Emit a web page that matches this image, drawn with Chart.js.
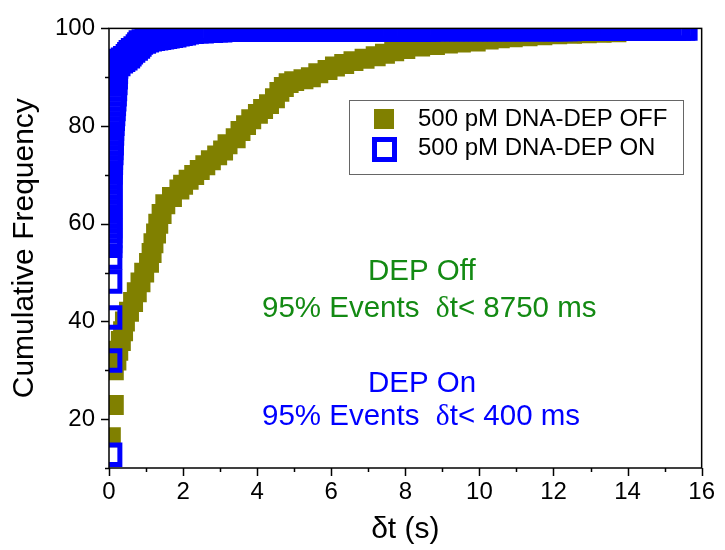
<!DOCTYPE html>
<html lang="en">
<head>
    <meta charset="UTF-8">
    <title>Cumulative Frequency</title>
    <style>
        body { margin: 0; background: #fff; }
        canvas { display: block; }
    </style>
</head>
<body>

    <canvas id="myChart" width="725" height="550"></canvas>

    <script src="https://cdn.jsdelivr.net/npm/chart.js"></script>

    <script>

        // DEP OFF: event time (s) and cumulative frequency (%)
        const offTimes = [0.05, 0.13, 0.13, 0.20, 0.25, 0.32, 0.38, 0.43, 0.54, 0.65,
                          0.75, 0.85, 0.95, 1.08, 1.15, 1.20, 1.27, 1.33, 1.42, 1.52,
                          1.70, 1.90, 2.00, 2.15, 2.30, 2.45, 2.60, 2.75, 2.92, 3.08,
                          3.20, 3.42, 3.55, 3.70, 3.84, 4.02, 4.16, 4.32, 4.48, 4.60,
                          4.72, 4.85, 5.00, 5.25, 5.45, 5.65, 5.90, 6.10, 6.35, 6.60,
                          6.90, 7.20, 7.45, 7.70, 8.00, 8.40, 8.80, 9.15, 9.50, 9.90,
                          10.25, 10.55, 10.90, 11.30, 11.70, 12.10, 12.50, 12.90, 13.30, 13.70];
        const offFreq  = [16.3, 22.9, 30.0, 32.0, 34.0, 36.0, 38.0, 40.0, 42.0, 44.0,
                          46.0, 48.0, 50.0, 52.0, 54.0, 56.0, 58.0, 60.0, 62.0, 64.0,
                          65.5, 67.0, 68.0, 69.0, 70.0, 71.0, 72.0, 73.0, 74.0, 75.0,
                          76.3, 77.5, 79.0, 80.2, 81.4, 82.5, 83.5, 84.5, 85.7, 87.0,
                          88.0, 88.8, 89.2, 89.6, 90.0, 90.8, 91.5, 92.2, 92.7, 93.3,
                          93.8, 94.3, 94.8, 95.3, 95.8, 96.3, 96.6, 96.9, 97.1, 97.3,
                          97.7, 98.0, 98.2, 98.4, 98.6, 98.8, 98.9, 99.0, 99.1, 99.2];

        // DEP ON: event time (s) and cumulative frequency (%)
        const onTimes = [0.03, 0.03, 0.03, 0.03, 0.03, 0.03, 0.03, 0.03, 0.03, 0.03,
                         0.03, 0.03, 0.03, 0.03, 0.03, 0.03, 0.03, 0.03, 0.03, 0.03,
                         0.04, 0.04, 0.05, 0.05, 0.06, 0.06, 0.07, 0.07, 0.08, 0.08,
                         0.09, 0.10, 0.11, 0.12, 0.13, 0.14, 0.15, 0.16, 0.17, 0.18,
                         0.185, 0.19, 0.25, 0.32, 0.38, 0.44, 0.51, 0.55, 0.59, 0.65,
                         0.72, 0.78, 0.82, 0.86, 0.94, 1.02, 1.10, 1.18, 1.27, 1.35,
                         1.43, 1.51, 1.58, 1.67, 1.76, 1.85, 1.93, 2.02, 2.10, 2.23,
                         2.36, 2.50, 2.62, 2.75, 2.88, 3.00, 3.13, 3.27, 3.40, 3.52,
                         3.65, 3.78, 3.90, 4.03, 4.16, 4.28, 4.41, 4.54, 4.67, 4.79,
                         4.92, 5.05, 5.18, 5.30, 5.43, 5.56, 5.69, 5.81, 5.94, 6.07,
                         6.20, 6.32, 6.45, 6.58, 6.71, 6.83, 6.96, 7.09, 7.22, 7.34,
                         7.47, 7.60, 7.73, 7.85, 7.98, 8.11, 8.24, 8.36, 8.49, 8.62,
                         8.75, 8.87, 9.00, 9.13, 9.26, 9.38, 9.51, 9.64, 9.77, 9.89,
                         10.02, 10.15, 10.28, 10.40, 10.53, 10.66, 10.79, 10.91, 11.04, 11.17,
                         11.30, 11.42, 11.55, 11.68, 11.81, 11.93, 12.06, 12.19, 12.32, 12.44,
                         12.57, 12.70, 12.83, 12.95, 13.08, 13.21, 13.34, 13.46, 13.59, 13.72,
                         13.85, 13.97, 14.10, 14.23, 14.36, 14.48, 14.61, 14.74, 14.87, 14.99,
                         15.12, 15.25, 15.38, 15.50, 15.56];
        const onFreq  = [12.7, 32.0, 40.8, 48.2, 53.1, 55.5, 56.5, 57.5, 58.5, 59.5,
                         60.5, 61.5, 62.5, 63.5, 64.5, 65.5, 66.5, 67.5, 68.5, 69.5,
                         70.5, 71.5, 72.5, 73.5, 74.5, 75.5, 76.5, 77.5, 78.5, 79.5,
                         80.5, 81.5, 82.5, 83.5, 84.5, 85.5, 86.5, 87.6, 88.8, 90.0,
                         91.1, 92.2, 92.7, 93.3, 93.6, 93.9, 94.3, 94.7, 95.1, 95.5,
                         95.9, 96.3, 96.7, 97.1, 97.3, 97.6, 97.8, 97.9, 98.0, 98.1,
                         98.2, 98.3, 98.4, 98.5, 98.6, 98.8, 98.9, 99.0, 99.2, 99.3,
                         99.4, 99.4, 99.5, 99.5, 99.6, 99.6, 99.7, 99.7, 99.8, 99.8,
                         99.8, 99.8, 99.8, 99.8, 99.8, 99.8, 99.8, 99.8, 99.8, 99.8,
                         99.8, 99.8, 99.8, 99.8, 99.8, 99.8, 99.8, 99.8, 99.8, 99.8,
                         99.8, 99.8, 99.8, 99.8, 99.8, 99.8, 99.8, 99.8, 99.8, 99.8,
                         99.8, 99.8, 99.8, 99.8, 99.8, 99.8, 99.8, 99.8, 99.8, 99.8,
                         99.9, 99.9, 99.9, 99.9, 99.9, 99.9, 99.9, 99.9, 99.9, 99.9,
                         99.9, 99.9, 99.9, 99.9, 99.9, 99.9, 99.9, 99.9, 99.9, 99.9,
                         99.9, 99.9, 99.9, 99.9, 99.9, 99.9, 99.9, 99.9, 99.9, 99.9,
                         100, 100, 100, 100, 100, 100, 100, 100, 100, 100,
                         100, 100, 100, 100, 100, 100, 100, 100, 100, 100,
                         100, 100, 100, 100, 100];

        // axis ticks
        const xMajor = [0, 2, 4, 6, 8, 10, 12, 14, 16];
        const yMajor = [20, 40, 60, 80, 100];

        const legendLabels = ['500 pM DNA-DEP OFF', '500 pM DNA-DEP ON'];

        const OLIVE = '#808000';
        const BLUE = '#0000ff';
        const GREEN = '#138a13';
        const SANS = '"Liberation Sans", Arial, sans-serif';
        const SERIF = '"Liberation Serif", "Times New Roman", serif';

        const toPoints = (xs, ys) => xs.map((v, i) => ({ x: v, y: ys[i] }));

        // draws a line of text where every δ is set in a serif face
        function drawMixed(ctx, text, x, y, size) {
            let cx = x;
            for (const part of text.split(/(δ)/)) {
                if (!part) continue;
                ctx.font = size + 'px ' + (part === 'δ' ? SERIF : SANS);
                ctx.fillText(part, cx, y);
                cx += ctx.measureText(part).width;
            }
        }

        // frame, tick marks, legend box and notes
        const decorations = {
            id: 'decorations',
            afterDatasetsDraw(chart) {
                const { ctx, chartArea: a, scales: { x, y } } = chart;
                ctx.save();

                ctx.strokeStyle = '#000';
                ctx.lineWidth = 1.5;
                ctx.strokeRect(a.left, a.top, a.right - a.left, a.bottom - a.top);

                ctx.beginPath();
                for (let v = 0; v <= 16; v++) {
                    const px = Math.round(x.getPixelForValue(v)) + 0.5;
                    const len = xMajor.includes(v) ? 8 : 4;
                    ctx.moveTo(px, a.bottom);
                    ctx.lineTo(px, a.bottom + len);
                }
                for (let v = 10; v <= 100; v += 10) {
                    const py = Math.round(y.getPixelForValue(v)) + 0.5;
                    const len = yMajor.includes(v) ? 8 : 4;
                    ctx.moveTo(a.left, py);
                    ctx.lineTo(a.left - len, py);
                }
                ctx.stroke();

                // legend
                ctx.lineWidth = 1;
                ctx.strokeStyle = '#666';
                ctx.strokeRect(349.5, 100.5, 334, 74);
                ctx.fillStyle = OLIVE;
                ctx.fillRect(374, 109, 20, 20);
                ctx.strokeStyle = BLUE;
                ctx.lineWidth = 5;
                ctx.strokeRect(374.5, 139.5, 20, 20);
                ctx.fillStyle = '#000';
                ctx.font = '24px ' + SANS;
                ctx.textBaseline = 'middle';
                ctx.fillText(legendLabels[0], 418, 119);
                ctx.fillText(legendLabels[1], 418, 148);

                // notes
                ctx.textBaseline = 'alphabetic';
                ctx.fillStyle = GREEN;
                drawMixed(ctx, 'DEP Off', 368, 280, 29.5);
                drawMixed(ctx, '95% Events  δt< 8750 ms', 262, 317, 29.5);
                ctx.fillStyle = BLUE;
                drawMixed(ctx, 'DEP On', 368, 392, 29.5);
                drawMixed(ctx, '95% Events  δt< 400 ms', 262, 425, 29.5);

                ctx.restore();
            }
        };

        const ctx = document.getElementById('myChart');

        new Chart(ctx, {
            type: 'scatter',
            data: {
                datasets: [{
                    label: legendLabels[0],
                    data: toPoints(offTimes, offFreq),
                    pointStyle: 'rect',
                    pointRadius: 14.1,
                    pointBackgroundColor: OLIVE,
                    pointBorderColor: OLIVE,
                    pointBorderWidth: 0,
                    clip: 0,
                    order: 2
                }, {
                    label: legendLabels[1],
                    data: toPoints(onTimes, onFreq),
                    pointStyle: 'rect',
                    pointRadius: 13.8,
                    pointBackgroundColor: 'rgba(0,0,0,0)',
                    pointBorderColor: BLUE,
                    pointBorderWidth: 5,
                    clip: 0,
                    order: 1
                }]
            },
            options: {
                responsive: false,
                animation: false,
                events: [],
                layout: { padding: { left: 0, right: 18, top: 27, bottom: 0 } },
                plugins: {
                    legend: { display: false },
                    tooltip: { enabled: false }
                },
                scales: {
                    x: {
                        type: 'linear',
                        min: 0,
                        max: 16,
                        afterFit: (s) => { s.height = 82; },
                        grid: { display: false, drawTicks: false },
                        border: { display: false },
                        ticks: {
                            stepSize: 1,
                            autoSkip: false,
                            maxRotation: 0,
                            padding: 10,
                            color: '#000',
                            font: { family: SANS, size: 24 },
                            callback: (v) => xMajor.includes(v) ? v : ''
                        },
                        title: {
                            display: true,
                            text: 'δt (s)',
                            color: '#000',
                            font: { family: SANS, size: 30 },
                            padding: { top: 0, bottom: 2 }
                        }
                    },
                    y: {
                        min: 10,
                        max: 100,
                        afterFit: (s) => { s.width = 109; },
                        grid: { display: false, drawTicks: false },
                        border: { display: false },
                        ticks: {
                            stepSize: 10,
                            autoSkip: false,
                            padding: 14,
                            color: '#000',
                            font: { family: SANS, size: 24 },
                            callback: (v) => yMajor.includes(v) ? v : ''
                        },
                        title: {
                            display: true,
                            text: 'Cumulative Frequency',
                            color: '#000',
                            font: { family: SANS, size: 30 },
                            padding: { top: 7, bottom: 7 }
                        }
                    }
                }
            },
            plugins: [decorations]
        });
    </script>

</body>
</html>
